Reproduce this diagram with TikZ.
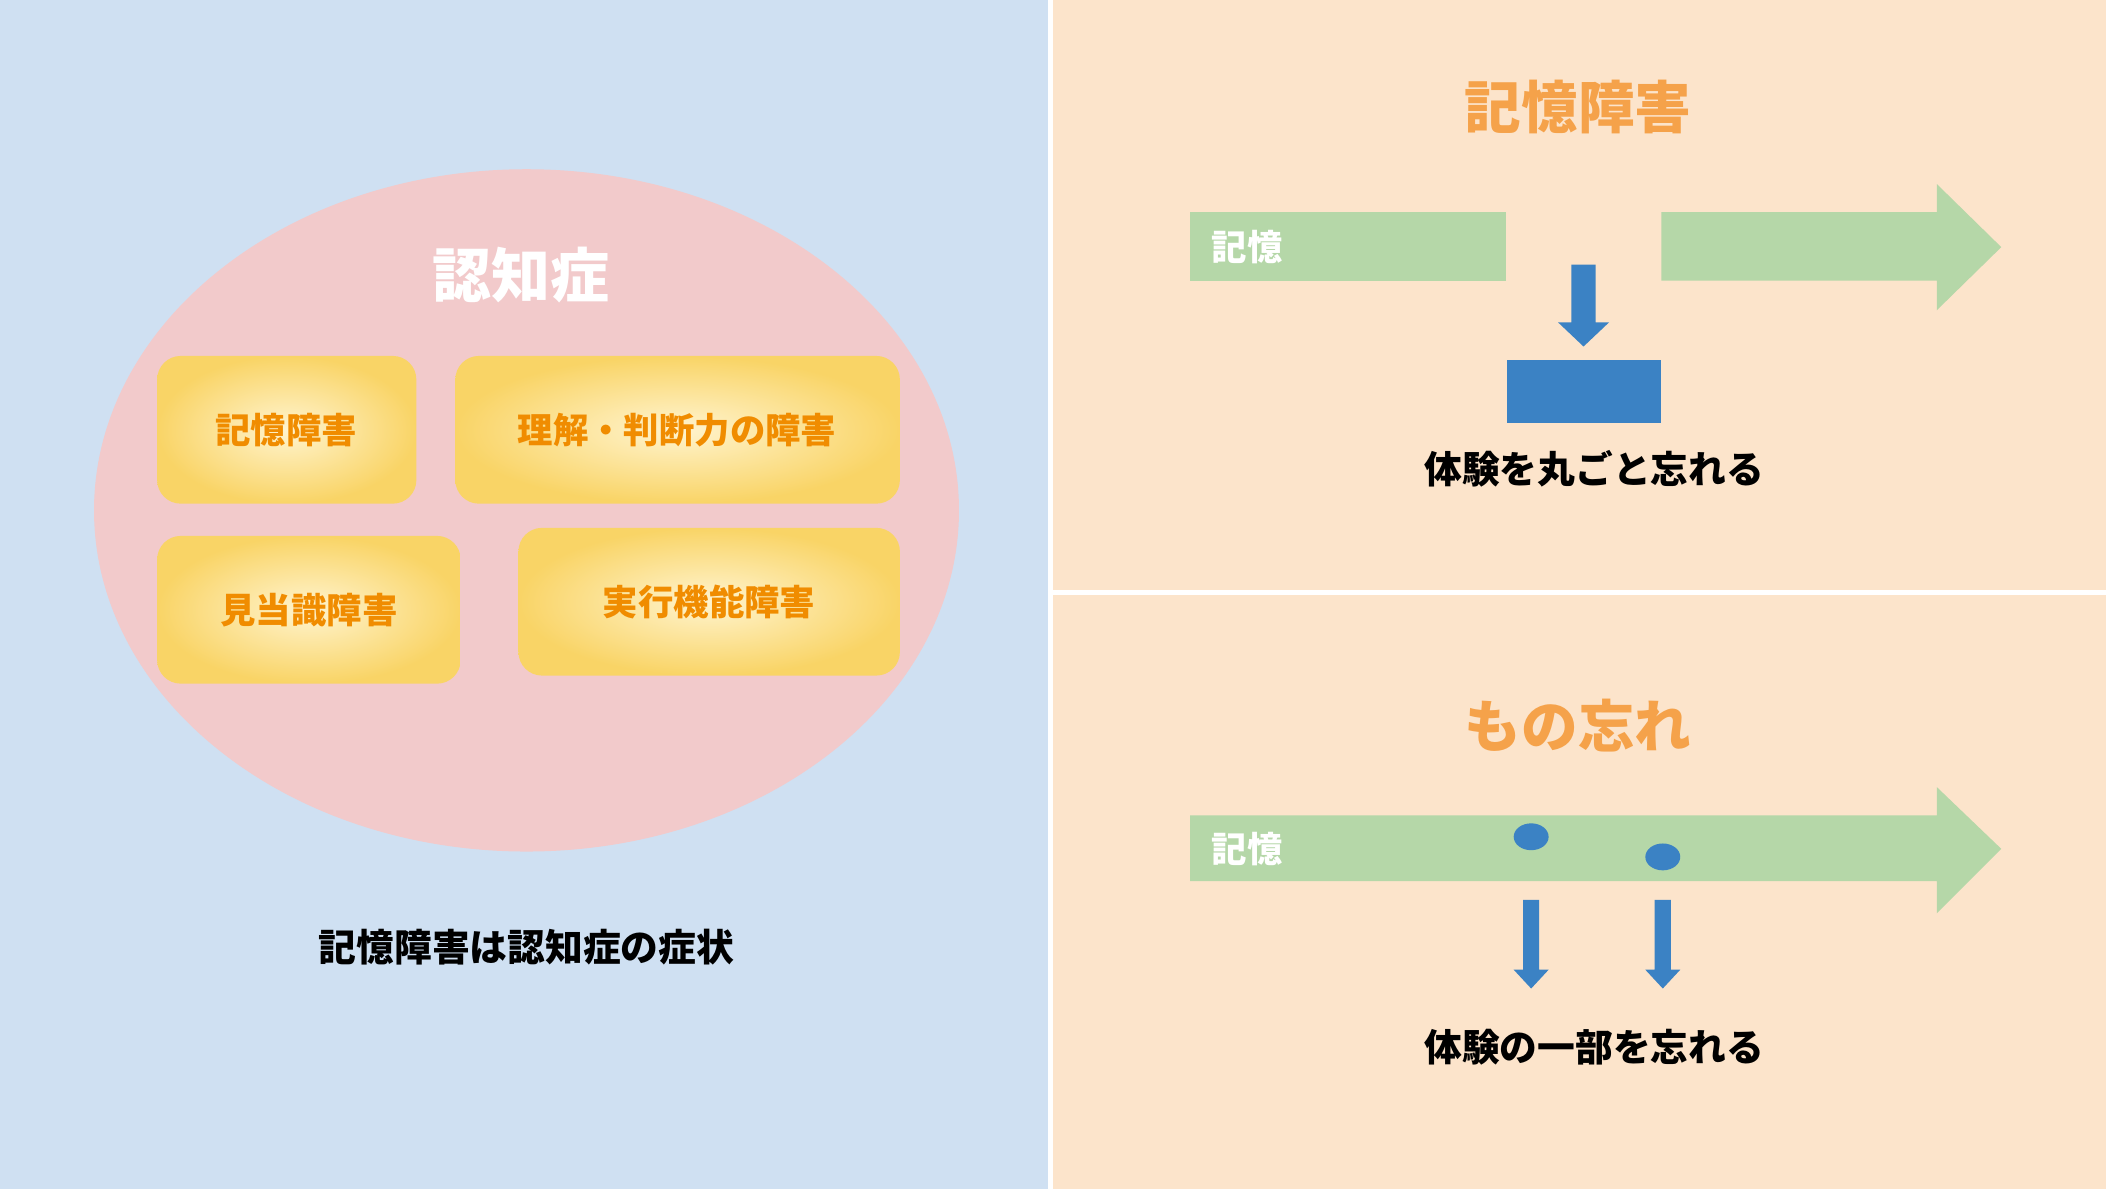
\documentclass[tikz,border=0pt]{standalone}
\usepackage{fontspec}
\setmainfont{Noto Sans CJK JP}
\usetikzlibrary{shapes.geometric}
\definecolor{lblue}{HTML}{CFE0F2}
\definecolor{peach}{HTML}{FCE4CB}
\definecolor{pinkel}{HTML}{F2CACB}
\definecolor{boxin}{HTML}{FFF4CF}
\definecolor{boxout}{HTML}{F9D466}
\definecolor{otxt}{HTML}{F08C00}
\definecolor{ttl}{HTML}{F5A24A}
\definecolor{grn}{HTML}{B5D7A8}
\definecolor{blu}{HTML}{3B82C4}
\tikzset{
 boxlbl/.style={text=otxt,font=\bfseries\fontsize{15}{15}\selectfont},
 ttlbl/.style={text=ttl,font=\bfseries\fontsize{24}{24}\selectfont},
 blk/.style={text=black,font=\bfseries\fontsize{16}{16}\selectfont},
 barlbl/.style={text=white,font=\bfseries\fontsize{15}{15}\selectfont,anchor=west},
 gbox/.style={inner color=boxin,outer color=boxout,rounded corners=10pt},
}
\begin{document}
\begin{tikzpicture}[x=0.02cm,y=-0.02cm]
\useasboundingbox (0,0) rectangle (1568,885);
\fill[white] (0,0) rectangle (1568,885);
\fill[lblue] (0,0) rectangle (780,885);
\fill[peach] (784,0) rectangle (1568,439);
\fill[peach] (784,443) rectangle (1568,885);
% left
\fill[pinkel] (392,380) ellipse [x radius=322, y radius=254];
\node[text=white,font=\bfseries\fontsize{25}{25}\selectfont] (t1) at (388,205) {認知症};
\shade[gbox] (117,265) rectangle (310,375);
\node[boxlbl] (b1) at (213,320) {記憶障害};
\shade[gbox] (339,265) rectangle (670,375);
\node[boxlbl] (b2) at (504,320) {理解・判断力の障害};
\shade[gbox] (117,399) rectangle (343,509);
\node[boxlbl] (b3) at (230,454) {見当識障害};
\shade[gbox] (386,393) rectangle (670,503);
\node[boxlbl] (b4) at (528,448) {実行機能障害};
\node[blk] (c1) at (392,705) {記憶障害は認知症の症状};
% right top
\node[ttlbl] (t2) at (1175,80) {記憶障害};
\fill[grn] (886,158) rectangle (1121,209);
\node[barlbl] (m1) at (896,184) {記憶};
\fill[grn] (1237,158) -- (1442,158) -- (1442,137) -- (1490,184) -- (1442,231) -- (1442,209) -- (1237,209) -- cycle;
\fill[blu] (1170,197) -- (1188,197) -- (1188,240) -- (1198,240) -- (1179,258) -- (1160,240) -- (1170,240) -- cycle;
\fill[blu] (1122,268) rectangle (1237,315);
\node[blk] (c2) at (1187,349) {体験を丸ごと忘れる};
% right bottom
\node[ttlbl] (t3) at (1175,540) {もの忘れ};
\fill[grn] (886,607) -- (1442,607) -- (1442,586) -- (1490,632) -- (1442,680) -- (1442,656) -- (886,656) -- cycle;
\node[barlbl] (m2) at (896,632) {記憶};
\fill[blu] (1140,623) ellipse [x radius=13, y radius=10];
\fill[blu] (1238,638) ellipse [x radius=13, y radius=10];
\foreach \x in {1140,1238}{
 \fill[blu] (\x-6,670) -- (\x+6,670) -- (\x+6,722) -- (\x+13,722) -- (\x,736) -- (\x-13,722) -- (\x-6,722) -- cycle;}
\node[blk] (c3) at (1187,780) {体験の一部を忘れる};
\end{tikzpicture}
\end{document}
